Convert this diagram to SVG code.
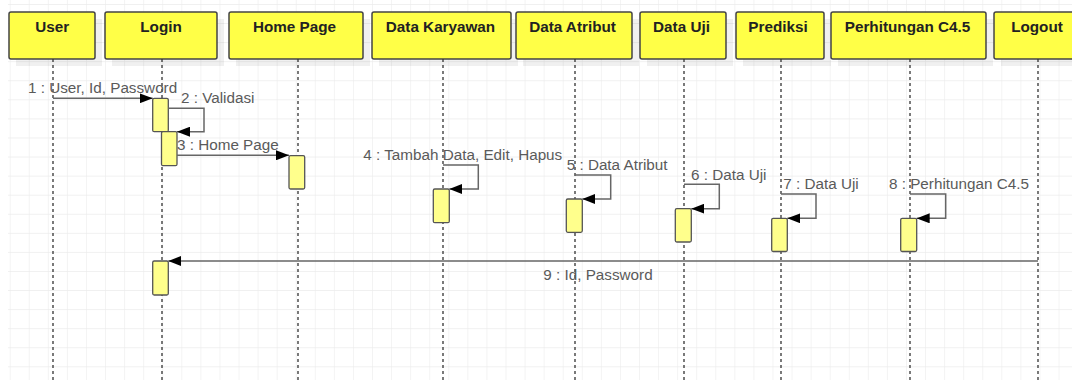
<svg xmlns="http://www.w3.org/2000/svg" width="1072" height="380" viewBox="0 0 1072 380">
<style>
.hdr{fill:#ffff47;stroke:#444;stroke-width:1.5}
.shd{fill:#000;opacity:0.06}
.ht{font-family:"Liberation Sans",Arial,sans-serif;font-weight:bold;font-size:15.26px;fill:#222;text-anchor:middle}
.ll{stroke:#333;stroke-width:1.3;stroke-dasharray:3 3;fill:none}
.act{fill:#ffff8c;stroke:#555;stroke-width:1.3}
.msg{stroke:#666;stroke-width:1.5;fill:none}
.lbl{font-family:"Liberation Sans",Arial,sans-serif;font-size:15.26px;fill:#5a5a5a}
</style>
<defs>
<pattern id="grid" patternUnits="userSpaceOnUse" x="9.7" y="4" width="19.07" height="19.07">
<path d="M0,0 H19.07 M0,0 V19.07" stroke="#ececec" stroke-width="1.2" fill="none"/>
</pattern>
<marker id="arr" markerUnits="userSpaceOnUse" viewBox="0 0 13 10" markerWidth="13" markerHeight="10" refX="13" refY="5" orient="auto">
<path d="M0,0 L13,5 L0,10 z" fill="#000"/>
</marker>
</defs>
<rect x="0" y="0" width="1072" height="380" fill="#fff"/>
<rect x="8" y="0" width="1064" height="380" fill="url(#grid)"/>

<g id="user">
<rect class="shd" x="16" y="19" width="86" height="47"/>
<rect class="hdr" x="9" y="12" width="86" height="47" rx="2"/>
<text class="ht" x="52.3" y="32.3">User</text>
<line class="ll" x1="53" y1="59" x2="53" y2="380"/>
</g>

<g id="login">
<rect class="shd" x="112" y="19" width="112" height="47"/>
<rect class="hdr" x="105" y="12" width="112" height="47" rx="2"/>
<text class="ht" x="161" y="32.3">Login</text>
<line class="ll" x1="162" y1="59" x2="162" y2="380"/>
<rect class="act" x="152.7" y="98.3" width="15.6" height="33.4" rx="1.5"/>
<rect class="act" x="161.5" y="131.7" width="15.5" height="34" rx="1.5"/>
<rect class="act" x="152.7" y="261" width="15.6" height="34" rx="1.5"/>
</g>

<g id="homepage">
<rect class="shd" x="236" y="19" width="134" height="47"/>
<rect class="hdr" x="229" y="12" width="134" height="47" rx="2"/>
<text class="ht" x="294.5" y="32.3">Home Page</text>
<line class="ll" x1="298" y1="59" x2="298" y2="380"/>
<rect class="act" x="289" y="155.7" width="15.7" height="33.3" rx="1.5"/>
</g>

<g id="datakaryawan">
<rect class="shd" x="379" y="19" width="139" height="47"/>
<rect class="hdr" x="372" y="12" width="139" height="47" rx="2"/>
<text class="ht" x="440.5" y="32.3">Data Karyawan</text>
<line class="ll" x1="443" y1="59" x2="443" y2="380"/>
<rect class="act" x="433.3" y="189" width="16" height="33.7" rx="1.5"/>
</g>

<g id="dataatribut">
<rect class="shd" x="523" y="19" width="116" height="47"/>
<rect class="hdr" x="516" y="12" width="116" height="47" rx="2"/>
<text class="ht" x="572.5" y="32.3">Data Atribut</text>
<line class="ll" x1="575" y1="59" x2="575" y2="380"/>
<rect class="act" x="566.3" y="199" width="16" height="33.3" rx="1.5"/>
</g>

<g id="datauji">
<rect class="shd" x="647" y="19" width="86" height="47"/>
<rect class="hdr" x="640" y="12" width="86" height="47" rx="2"/>
<text class="ht" x="681.5" y="32.3">Data Uji</text>
<line class="ll" x1="684" y1="59" x2="684" y2="380"/>
<rect class="act" x="675.3" y="208.7" width="16" height="33.3" rx="1.5"/>
</g>

<g id="prediksi">
<rect class="shd" x="743" y="19" width="88" height="47"/>
<rect class="hdr" x="736" y="12" width="88" height="47" rx="2"/>
<text class="ht" x="778" y="32.3">Prediksi</text>
<line class="ll" x1="781" y1="59" x2="781" y2="380"/>
<rect class="act" x="771.7" y="218.3" width="15.6" height="33.2" rx="1.5"/>
</g>

<g id="perhitungan">
<rect class="shd" x="838" y="19" width="155" height="47"/>
<rect class="hdr" x="831" y="12" width="155" height="47" rx="2"/>
<text class="ht" x="907.5" y="32.3">Perhitungan C4.5</text>
<line class="ll" x1="910" y1="59" x2="910" y2="380"/>
<rect class="act" x="900.7" y="218.3" width="16" height="33.2" rx="1.5"/>
</g>

<g id="logout">
<rect class="shd" x="1001" y="19" width="88" height="47"/>
<rect class="hdr" x="994" y="12" width="88" height="47" rx="2"/>
<text class="ht" x="1037" y="32.3">Logout</text>
<line class="ll" x1="1038" y1="59" x2="1038" y2="380"/>
</g>

<g id="connectors">
<path class="msg" d="M53,98.3 H152.7" marker-end="url(#arr)"/>
<text class="lbl" x="28" y="93">1 : User, Id, Password</text>

<path class="msg" d="M168.3,108.3 H204 V131.7 H177" marker-end="url(#arr)"/>
<text class="lbl" x="181" y="103.3">2 : Validasi</text>

<path class="msg" d="M177,155.3 H289" marker-end="url(#arr)"/>
<text class="lbl" x="177" y="150.3">3 : Home Page</text>

<path class="msg" d="M443,165 H478.3 V189 H449.3" marker-end="url(#arr)"/>
<text class="lbl" x="363.3" y="159.5">4 : Tambah Data, Edit, Hapus</text>

<path class="msg" d="M575,175 H610.7 V199 H582.3" marker-end="url(#arr)"/>
<text class="lbl" x="566.7" y="170">5 : Data Atribut</text>

<path class="msg" d="M684,184.3 H719.3 V208.7 H691.3" marker-end="url(#arr)"/>
<text class="lbl" x="691" y="179.5">6 : Data Uji</text>

<path class="msg" d="M781,194 H816 V218.3 H787.3" marker-end="url(#arr)"/>
<text class="lbl" x="783.3" y="189">7 : Data Uji</text>

<path class="msg" d="M910,194 H945.7 V218.3 H916.7" marker-end="url(#arr)"/>
<text class="lbl" x="889" y="189">8 : Perhitungan C4.5</text>

<path class="msg" d="M1038,261 H168.3" marker-end="url(#arr)"/>
<text class="lbl" x="543.3" y="279.5">9 : Id, Password</text>
</g>
</svg>
